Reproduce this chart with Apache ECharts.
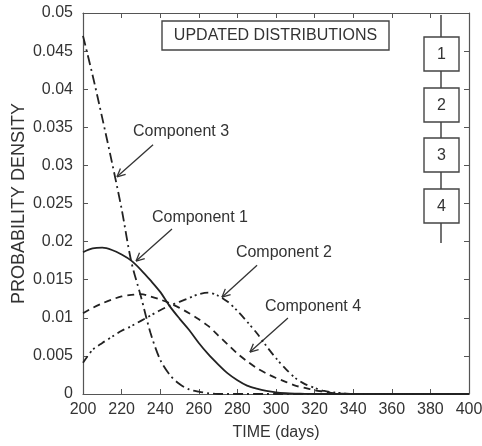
<!DOCTYPE html>
<html>
<head>
<meta charset="utf-8">
<script src="https://cdn.jsdelivr.net/npm/echarts@6/dist/echarts.min.js"></script>
<style>
html,body{margin:0;padding:0;background:#fff;}
#c{width:482px;height:446px;}
</style>
</head>
<body>
<div id="c"></div>
<script>
// ---- data ----
const days = [200,205,210,215,220,225,230,235,240,245,250,255,260,265,270,275,280,285,290,295,300,305,310,315,320,325,330,335,340,350,360,370,380,390,400];
const comp1 = [0.0186,0.0191,0.0192,0.0189,0.0183,0.0175,0.0163,0.0149,0.0134,0.0115,0.0099,0.0084,0.0067,0.0052,0.0039,0.0027,0.0018,0.0011,0.0007,0.0004,0.0002,0.0001,0.00005,0.00002,0,0,0,0,0,0,0,0,0,0,0];
const comp2 = [0.0106,0.0113,0.0119,0.0124,0.0128,0.0130,0.0131,0.0128,0.0124,0.0119,0.0113,0.0106,0.0098,0.0089,0.0077,0.0065,0.0053,0.0043,0.0034,0.0027,0.0021,0.0016,0.0011,0.0008,0.0005,0.0003,0.0001,0.00003,0,0,0,0,0,0,0];
const comp3 = [0.0470,0.0418,0.0362,0.0304,0.0243,0.0174,0.0128,0.0080,0.0045,0.0025,0.0013,0.0006,0.0003,0.0001,0,0,0,0,0,0,0,0,0,0,0,0,0,0,0,0,0,0,0,0,0];
const comp4 = [0.0041,0.0058,0.0067,0.0075,0.0083,0.0089,0.0096,0.0103,0.0110,0.0116,0.0121,0.0126,0.0131,0.0133,0.0129,0.0121,0.0109,0.0095,0.0080,0.0063,0.0047,0.0033,0.0021,0.0013,0.0008,0.0004,0.0002,0.0001,0,0,0,0,0,0,0];
const xTicks = [200,220,240,260,280,300,320,340,360,380,400];
const yTicks = [0,0.005,0.01,0.015,0.02,0.025,0.03,0.035,0.04,0.045,0.05];
const seriesNames = ['Component 1','Component 2','Component 3','Component 4'];
const boxLabels = ['1','2','3','4'];
const titleText = 'UPDATED DISTRIBUTIONS';
const xName = 'TIME (days)';
const yName = 'PROBABILITY DENSITY';
// annotation: [label, textX, textY, lineStartX, lineStartY, tipX, tipY] in data units
const annotations = [
  ['Component 3', 250.8, 0.0345, 236.3, 0.0327, 217.6, 0.0285],
  ['Component 1', 260.6, 0.0232, 246.1, 0.02165, 227.5, 0.01745],
  ['Component 2', 304.1, 0.0185, 290.2, 0.0169, 272.0, 0.0127],
  ['Component 4', 319.2, 0.01142, 306.2, 0.00997, 286.5, 0.00551]
];

const FONT = "'Liberation Sans', Arial, sans-serif";
const INK = '#222';
const chart = echarts.init(document.getElementById('c'), null, {renderer:'canvas'});

function pair(xs, ys){ return xs.map((x,i)=>[x, ys[i]]); }
const styles = [
  {type:'solid'},
  {type:[7,5]},
  {type:[10,4,2,4]},
  {type:[8,4,2,3,2,4]}
];
const allData = [comp1, comp2, comp3, comp4];

const axisCommon = {
  axisLine:{show:true, onZero:false, lineStyle:{color:'#555', width:1.2}},
  axisTick:{show:true, inside:true, length:5, lineStyle:{color:'#555'}},
  splitLine:{show:false}
};

chart.setOption({
  animation:false,
  backgroundColor:'#fff',
  grid:{left:83, right:13, top:13, bottom:52, containLabel:false, outerBoundsMode:'none'},
  xAxis:[
    Object.assign({type:'value', min:xTicks[0], max:xTicks[xTicks.length-1], interval:xTicks[1]-xTicks[0],
      name:xName, nameLocation:'middle', nameGap:31, nameMoveOverlap:false,
      nameTextStyle:{fontFamily:FONT, fontSize:16, color:'#333'},
      axisLabel:{fontFamily:FONT, fontSize:16, color:'#333', margin:8}}, axisCommon),
    Object.assign({type:'value', position:'top', min:xTicks[0], max:xTicks[xTicks.length-1], interval:xTicks[1]-xTicks[0],
      axisLabel:{show:false}}, axisCommon)
  ],
  yAxis:[
    Object.assign({type:'value', min:yTicks[0], max:yTicks[yTicks.length-1], interval:yTicks[1]-yTicks[0],
      name:yName, nameLocation:'middle', nameGap:55, nameRotate:90, nameMoveOverlap:false,
      nameTextStyle:{fontFamily:FONT, fontSize:18, color:'#333'},
      axisLabel:{fontFamily:FONT, fontSize:16, color:'#333', margin:10,
        formatter:v=>String(parseFloat(v.toFixed(3)))}}, axisCommon),
    Object.assign({type:'value', position:'right', min:yTicks[0], max:yTicks[yTicks.length-1], interval:yTicks[1]-yTicks[0],
      axisLabel:{show:false}}, axisCommon)
  ],
  series: allData.map((d,i)=>({
    name:seriesNames[i], type:'line', data:pair(days,d), showSymbol:false, smooth:0.3,
    lineStyle:Object.assign({color:INK, width:1.8}, styles[i])
  }))
});

// ---- annotations & decorations ----
const g = [];
function px(x,y){ return chart.convertToPixel({xAxisIndex:0, yAxisIndex:0}, [x,y]); }
annotations.forEach(a=>{
  const t = px(a[1],a[2]), s = px(a[3],a[4]), e = px(a[5],a[6]);
  g.push({type:'text', x:t[0], y:t[1], style:{text:a[0], fontFamily:FONT, fontSize:16, fill:'#333', align:'center', verticalAlign:'middle'}});
  g.push({type:'line', shape:{x1:s[0],y1:s[1],x2:e[0],y2:e[1]}, style:{stroke:'#333', lineWidth:1.3}});
  const ang = Math.atan2(s[1]-e[1], s[0]-e[0]);
  const L = 9, spread = 0.45;
  [ang-spread, ang+spread].forEach(b=>{
    g.push({type:'line', shape:{x1:e[0],y1:e[1],x2:e[0]+L*Math.cos(b),y2:e[1]+L*Math.sin(b)}, style:{stroke:'#333', lineWidth:1.3}});
  });
});
// title box
g.push({type:'rect', shape:{x:162, y:21, width:227, height:29}, style:{fill:'#fff', stroke:'#444', lineWidth:1.4}});
g.push({type:'text', x:275.5, y:36, style:{text:titleText, fontFamily:FONT, fontSize:16, fill:'#333', align:'center', verticalAlign:'middle'}});
// block diagram
g.push({type:'line', shape:{x1:441, y1:15, x2:441, y2:243}, style:{stroke:'#444', lineWidth:1.5}});
const boxTops = [37, 88, 138, 189];
boxTops.forEach((yt,i)=>{
  g.push({type:'rect', shape:{x:424, y:yt, width:35, height:34}, style:{fill:'#fff', stroke:'#444', lineWidth:1.4}});
  g.push({type:'text', x:441.5, y:yt+17.5, style:{text:boxLabels[i], fontFamily:FONT, fontSize:16, fill:'#333', align:'center', verticalAlign:'middle'}});
});
chart.setOption({graphic:g});
</script>
</body>
</html>
